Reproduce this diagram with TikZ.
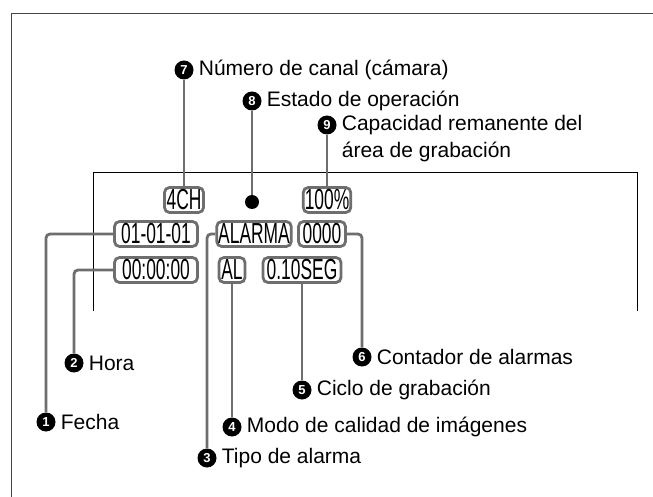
\documentclass[tikz,border=0pt]{standalone}
\usepackage{fontspec}
\usepackage{graphicx}
\setmainfont{Liberation Sans}
\usetikzlibrary{positioning}

\definecolor{leadgray}{HTML}{6E6E6E}
\definecolor{framegray}{HTML}{454545}
\newcommand{\lcdtext}[1]{\scalebox{0.6}[1]{#1}}

\begin{document}
\begin{tikzpicture}[x=1pt,y=-1pt,
	lcd/.style={draw=leadgray, line width=2.8pt, rounded corners=5pt, fill=white,
		minimum height=25pt, inner xsep=1.5pt, inner ysep=0pt,
		font=\fontsize{29}{29}\selectfont},
	num/.style={circle, fill=black, text=white, inner sep=0pt, minimum size=19pt,
		font=\fontsize{13}{13}\selectfont\bfseries},
	lbl/.style={anchor=west, inner sep=0pt, font=\fontsize{21}{24}\selectfont},
	leader/.style={draw=leadgray, line width=2.8pt, rounded corners=4pt}]
	\useasboundingbox (0,0) rectangle (653,497);
	% frames
	\draw[framegray, line width=1pt] (11,497) -- (11,14) -- (653,14);
	\draw[black, line width=0.9pt] (93,311) -- (93,172) -- (637,172) -- (637,311);
	% screen
	\node[lcd, minimum width=39pt] (ch) at (184,200) {\lcdtext{4CH}};
	\node[circle, fill=black, inner sep=0pt, minimum size=14pt] (dot) at (252,202) {};
	\node[lcd, minimum width=46pt] (pct) at (327,200) {\lcdtext{100\%}};
	\node[lcd, minimum width=83pt] (date) at (156,234) {\lcdtext{01-01-01}};
	\node[lcd, minimum width=71pt] (alarm) at (254,234) {\lcdtext{ALARMA}};
	\node[lcd, minimum width=47pt] (count) at (322,234) {\lcdtext{0000}};
	\node[lcd, minimum width=83pt] (time) at (156,270) {\lcdtext{00:00:00}};
	\node[lcd, minimum width=26pt] (qual) at (232,270) {\lcdtext{AL}};
	\node[lcd, minimum width=78pt] (cycle) at (302,270) {\lcdtext{0.10SEG}};
	% callouts
	\node[num] (n1) at (46,422) {1};
	\node[lbl, right=5pt of n1] (t1) {Fecha};
	\node[num] (n2) at (74,363) {2};
	\node[lbl, right=5pt of n2] (t2) {Hora};
	\node[num] (n3) at (207,458) {3};
	\node[lbl, right=5pt of n3] (t3) {Tipo de alarma};
	\node[num] (n4) at (232,427) {4};
	\node[lbl, right=5pt of n4] (t4) {Modo de calidad de imágenes};
	\node[num] (n5) at (302,390) {5};
	\node[lbl, right=5pt of n5] (t5) {Ciclo de grabación};
	\node[num] (n6) at (362,357) {6};
	\node[lbl, right=5pt of n6] (t6) {Contador de alarmas};
	\node[num] (n7) at (184,70) {7};
	\node[lbl, right=5pt of n7] (t7) {Número de canal (cámara)};
	\node[num] (n8) at (252,101) {8};
	\node[lbl, right=5pt of n8] (t8) {Estado de operación};
	\node[num] (n9) at (327,125) {9};
	\node[lbl, right=5pt of n9] (t9) {Capacidad remanente del};
	\node[lbl, anchor=north west] (t9b) at ([yshift=-7pt]t9.south west) {área de grabación};
	% leaders
	\draw[leader] (date.west) -| (n1.north);
	\draw[leader] (time.west) -| (n2.north);
	\draw[leader] (alarm.west) -| (n3.north);
	\draw[leader] (qual.south) -- (n4.north);
	\draw[leader] (cycle.south) -- (n5.north);
	\draw[leader] (count.east) -| (n6.north);
	\draw[leader] (n7.south) -- (ch.north);
	\draw[leader] (n8.south) -- (dot.north);
	\draw[leader] (n9.south) -- (pct.north);
\end{tikzpicture}
\end{document}
